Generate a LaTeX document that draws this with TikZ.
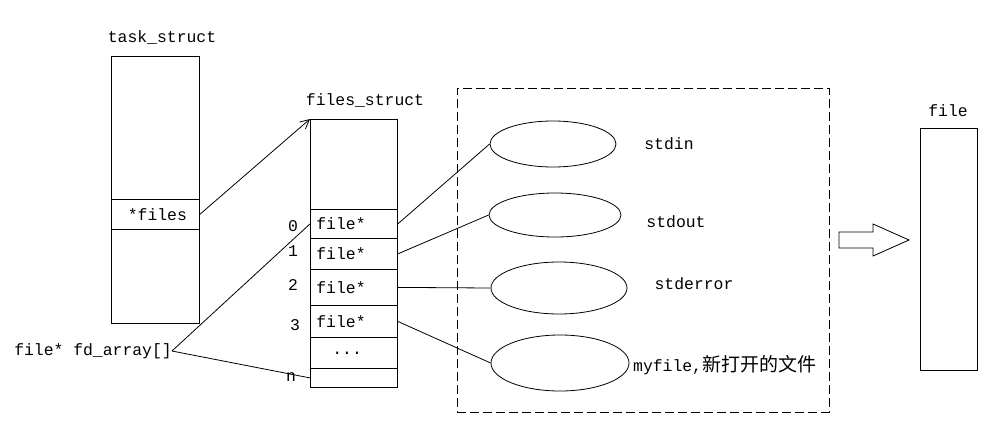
\documentclass[tikz,border=0pt]{standalone}
\usepackage{fontspec}
\setmainfont{Liberation Mono}
\newfontfamily\cjk{Noto Sans CJK SC}
\usetikzlibrary{shapes.geometric,arrows.meta}
\tikzset{
  lw/.style={line width=0.8pt},
  txt/.style={font=\fontsize{16.4}{18}\selectfont, inner sep=0pt},
  boxpart/.style={draw, lw, anchor=north west, inner sep=0pt, minimum width=#1},
  rowbox/.style={draw, lw, anchor=north west, inner ysep=0pt, inner xsep=6pt, text width=75pt, align=left, font=\fontsize{16.4}{18}\selectfont},
  oval/.style={draw, lw, ellipse, inner sep=0pt},
  link/.style={lw},
}
\begin{document}
\begin{tikzpicture}[x=1pt,y=-1pt]
\useasboundingbox (0,0) rectangle (999,445);
% task_struct
\node[txt] (ttitle) at (162,37) {task\_struct};
\node[boxpart=88pt, minimum height=143pt] (ttop) at (111,56) {};
\node[boxpart=88pt, minimum height=30pt, txt, font=\fontsize{16.4}{18}\selectfont] (tfiles) at (111,199) {\hspace*{4pt}*files};
\node[boxpart=88pt, minimum height=94pt] (tbot) at (111,229) {};
% files_struct
\node[txt] (ftitle) at (365,100) {files\_struct};
\node[boxpart=87pt, minimum height=90pt] (ftop) at (310,119) {};
\node[rowbox, minimum height=29pt] (r0) at (310,209) {file*};
\node[rowbox, minimum height=31pt] (r1) at (310,238) {file*};
\node[rowbox, minimum height=36pt] (r2) at (310,269) {file*};
\node[rowbox, minimum height=32pt] (r3) at (310,305) {file*};
\node[rowbox, minimum height=31pt] (rd) at (310,337) {\hspace*{16pt}...};
\node[rowbox, minimum height=19pt] (rn) at (310,368) {};
% indices
\node[txt] (i0) at (293,226) {0};
\node[txt] (i1) at (293,251) {1};
\node[txt] (i2) at (293,285) {2};
\node[txt] (i3) at (295,325) {3};
\node[txt] (in) at (291,377) {n};
% fd_array
\node[txt] (fd) at (93,351) {file* fd\_array[]};
% dashed region
\node[draw, lw, dash pattern=on 9pt off 4pt, minimum width=372pt, minimum height=324pt, inner sep=0pt] (region) at (643,250) {};
% ellipses
\node[oval, minimum width=126pt, minimum height=46pt] (e1) at (553,144) {};
\node[oval, minimum width=132pt, minimum height=44pt] (e2) at (555,215) {};
\node[oval, minimum width=136pt, minimum height=52pt] (e3) at (559,288) {};
\node[oval, minimum width=138pt, minimum height=56pt] (e4) at (560,363) {};
\node[txt] (l1) at (669,144) {stdin};
\node[txt] (l2) at (676,222) {stdout};
\node[txt] (l3) at (694,284) {stderror};
\node[txt, anchor=west] (l4) at (633,365) {myfile,{\cjk\fontsize{19}{20}\selectfont 新打开的文件}};
% file box
\node[txt] (filetitle) at (948,111) {file};
\node[draw, lw, minimum width=57pt, minimum height=242pt, inner sep=0pt] (filebox) at (948.5,249) {};
% block arrow
\draw[lw] (839,232) -- (873,232) -- (873,224) -- (909,240) -- (873,256) -- (873,248) -- (839,248) -- cycle;
% connectors
\draw[link, -{Straight Barb[length=9pt,width=9pt]}] (tfiles.east) -- (ftop.north west);
\draw[link] (fd.east) -- (r0.west);
\draw[link] (fd.east) -- (rn.west);
\draw[link] (r0.east) -- (e1.west);
\draw[link] (r1.east) -- (e2.west);
\draw[link] (r2.east) -- (e3.west);
\draw[link] (r3.east) -- (e4.west);
\end{tikzpicture}
\end{document}
